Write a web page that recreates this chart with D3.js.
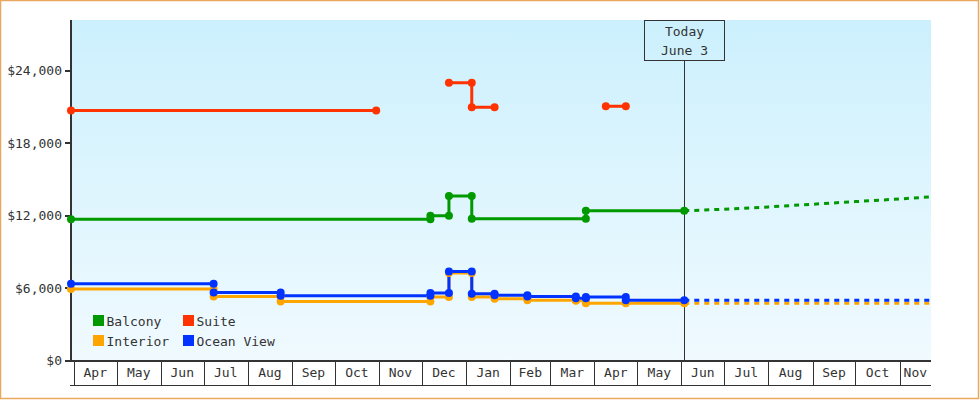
<!DOCTYPE html>
<html>
<head>
<meta charset="utf-8">
<script src="https://cdn.jsdelivr.net/npm/d3@7"></script>
<style>
    body { margin: 0; background: #fff; }
    text { font-family: "DejaVu Sans Mono", monospace; font-size: 13px; fill: #333; }
</style>
</head>
<body>
<div id="chart-ctn"></div>
<script>
// Chart data (price history per cabin type, null breaks a line)
let balcony = [
    ["2022-03-30", 11700], ["2022-12-07", 11700], ["2022-12-07", 11980],
    ["2022-12-20", 11980], ["2022-12-20", 13630], ["2023-01-05", 13630],
    ["2023-01-05", 11750], ["2023-03-26", 11750], ["2023-03-26", 12400],
    ["2023-06-03", 12400]
];
let suite = [
    ["2022-03-30", 20700], ["2022-10-30", 20700], ["2022-11-01", null],
    ["2022-12-20", 23000], ["2023-01-05", 23000], ["2023-01-05", 20970],
    ["2023-01-21", 20970], ["2023-02-01", null],
    ["2023-04-09", 21050], ["2023-04-23", 21050]
];
let interior = [
    ["2022-03-30", 5930], ["2022-07-08", 5930], ["2022-07-08", 5300],
    ["2022-08-24", 5300], ["2022-08-24", 4880], ["2022-12-07", 4880],
    ["2022-12-07", 5250], ["2022-12-20", 5250], ["2022-12-20", 7250],
    ["2023-01-05", 7250], ["2023-01-05", 5250], ["2023-01-21", 5250],
    ["2023-01-21", 5110], ["2023-02-13", 5110], ["2023-02-13", 4990],
    ["2023-03-19", 4990], ["2023-03-19", 4940], ["2023-03-26", 4940],
    ["2023-03-26", 4750], ["2023-04-23", 4750], ["2023-06-03", 4750]
];
let oceanView = [
    ["2022-03-30", 6350], ["2022-07-08", 6350], ["2022-07-08", 5630],
    ["2022-08-24", 5630], ["2022-08-24", 5355], ["2022-12-07", 5355],
    ["2022-12-07", 5580], ["2022-12-20", 5580], ["2022-12-20", 7370],
    ["2023-01-05", 7370], ["2023-01-05", 5520], ["2023-01-21", 5520],
    ["2023-01-21", 5400], ["2023-02-13", 5400], ["2023-02-13", 5300],
    ["2023-03-19", 5300], ["2023-03-19", 5160], ["2023-03-26", 5160],
    ["2023-03-26", 5250], ["2023-04-23", 5250], ["2023-04-23", 5000],
    ["2023-06-03", 5000]
];

// Forecast after today (dashed)
let balconyForecast = [
    ["2023-06-03", 12400], ["2023-07-01", 12530], ["2023-08-01", 12720],
    ["2023-09-01", 12940], ["2023-10-01", 13160], ["2023-11-01", 13380],
    ["2023-11-23", 13550]
];
let interiorForecast = [["2023-06-03", 4750], ["2023-11-23", 4750]];
let oceanViewForecast = [["2023-06-03", 5000], ["2023-11-23", 5000]];

let yTicks = [0, 6000, 12000, 18000, 24000];
let todayDate = "2023-06-03";
let todayLabel = ["Today", "June 3"];
let startDate = "2022-03-30";
let endDate = "2023-11-23";

let series = [
    { name: "Suite", color: "#ff3300", data: suite, forecast: null },
    { name: "Balcony", color: "#009900", data: balcony, forecast: balconyForecast },
    { name: "Interior", color: "#ffa500", data: interior, forecast: interiorForecast },
    { name: "Ocean View", color: "#0033ff", data: oceanView, forecast: oceanViewForecast }
];
let legendOrder = ["Balcony", "Suite", "Interior", "Ocean View"];

let width = 980;
let height = 400;
let parse = d3.timeParse("%Y-%m-%d");

let svg = d3.select("#chart-ctn").append("svg")
    .attr("width", width)
    .attr("height", height);

// outer frame
svg.append("rect")
    .attr("x", 0.5).attr("y", 0.5)
    .attr("width", 978).attr("height", 398)
    .attr("fill", "#fff")
    .attr("stroke", "#e8a95e")
    .attr("stroke-width", 1.5);

let x = d3.scaleTime()
    .domain([parse(startDate), parse(endDate)])
    .range([71, 931]);
let y = d3.scaleLinear().domain([0, 28200]).range([360.5, 20]);

// background gradient
let grad = svg.append("defs").append("linearGradient")
    .attr("id", "bg").attr("x1", 0).attr("y1", 0).attr("x2", 0).attr("y2", 1);
grad.append("stop").attr("offset", "0%").attr("stop-color", "#ccf0fd");
grad.append("stop").attr("offset", "100%").attr("stop-color", "#f0faff");

svg.append("rect")
    .attr("x", 72).attr("y", 20)
    .attr("width", 931 - 72).attr("height", 340)
    .attr("fill", "url(#bg)");

// today marker line + label box
let tx = Math.round(x(parse(todayDate))) + 0.5;
svg.append("line")
    .attr("x1", tx).attr("x2", tx)
    .attr("y1", 60.5).attr("y2", 360)
    .attr("stroke", "#333").attr("stroke-width", 1);
svg.append("rect")
    .attr("x", tx - 40).attr("y", 20.5)
    .attr("width", 80).attr("height", 40)
    .attr("fill", "none").attr("stroke", "#333").attr("stroke-width", 1);
svg.append("text")
    .attr("x", tx).attr("y", 36)
    .attr("text-anchor", "middle")
    .text(todayLabel[0]);
svg.append("text")
    .attr("x", tx).attr("y", 55)
    .attr("text-anchor", "middle")
    .text(todayLabel[1]);

// month band under the plot
let months = d3.timeMonth.range(d3.timeMonth.ceil(x.domain()[0]), x.domain()[1]);
let band = svg.append("g");
band.selectAll("line.mb")
    .data(months)
    .join("line")
    .attr("class", "mb")
    .attr("x1", (d) => Math.round(x(d)) + 0.5)
    .attr("x2", (d) => Math.round(x(d)) + 0.5)
    .attr("y1", 361).attr("y2", 385)
    .attr("stroke", "#333");
band.append("line")
    .attr("x1", 70).attr("x2", 931)
    .attr("y1", 385.5).attr("y2", 385.5)
    .attr("stroke", "#333");
band.selectAll("text")
    .data(months)
    .join("text")
    .attr("x", (d) => {
        let next = d3.timeMonth.offset(d, 1);
        let right = Math.min(x(next), 931);
        return (x(d) + right) / 2;
    })
    .attr("y", 377)
    .attr("text-anchor", "middle")
    .text(d3.timeFormat("%b"));

// axes lines
svg.append("line")
    .attr("x1", 71).attr("x2", 931)
    .attr("y1", 361).attr("y2", 361)
    .attr("stroke", "#333").attr("stroke-width", 2);
svg.append("line")
    .attr("x1", 71).attr("x2", 71)
    .attr("y1", 20).attr("y2", 362)
    .attr("stroke", "#333").attr("stroke-width", 2);

let yAxis = svg.append("g");
yAxis.selectAll("line")
    .data(yTicks)
    .join("line")
    .attr("x1", 65).attr("x2", 71)
    .attr("y1", (d) => Math.round(y(d)))
    .attr("y2", (d) => Math.round(y(d)))
    .attr("stroke", "#333").attr("stroke-width", 2);
yAxis.selectAll("text")
    .data(yTicks)
    .join("text")
    .attr("x", 62)
    .attr("y", (d) => y(d) + 4.5)
    .attr("text-anchor", "end")
    .text((d) => "$" + d3.format(",")(d));

// series lines
let line = d3.line()
    .defined((d) => d[1] !== null)
    .x((d) => x(parse(d[0])))
    .y((d) => y(d[1]));

let lines = svg.append("g");
series.forEach((s) => {
    lines.append("path")
        .attr("d", line(s.data))
        .attr("fill", "none")
        .attr("stroke", s.color)
        .attr("stroke-width", 3)
        .attr("stroke-linejoin", "miter");
    if (s.forecast) {
        lines.append("path")
            .attr("d", line(s.forecast))
            .attr("fill", "none")
            .attr("stroke", s.color)
            .attr("stroke-width", 3)
            .attr("stroke-dasharray", "5,5");
    }
});

// point markers
series.forEach((s) => {
    lines.append("g")
        .selectAll("circle")
        .data(s.data.filter((d) => d[1] !== null))
        .join("circle")
        .attr("cx", (d) => x(parse(d[0])))
        .attr("cy", (d) => y(d[1]))
        .attr("r", 4)
        .attr("fill", s.color);
});

// legend
let legend = svg.append("g");
legendOrder.forEach((name, i) => {
    let s = series.find((o) => o.name === name);
    let lx = 93 + (i % 2) * 90;
    let ly = 315 + Math.floor(i / 2) * 20;
    legend.append("rect")
        .attr("x", lx).attr("y", ly)
        .attr("width", 11).attr("height", 11)
        .attr("fill", s.color);
    legend.append("text")
        .attr("x", lx + 13.5).attr("y", ly + 10.5)
        .text(name);
});
</script>
</body>
</html>
